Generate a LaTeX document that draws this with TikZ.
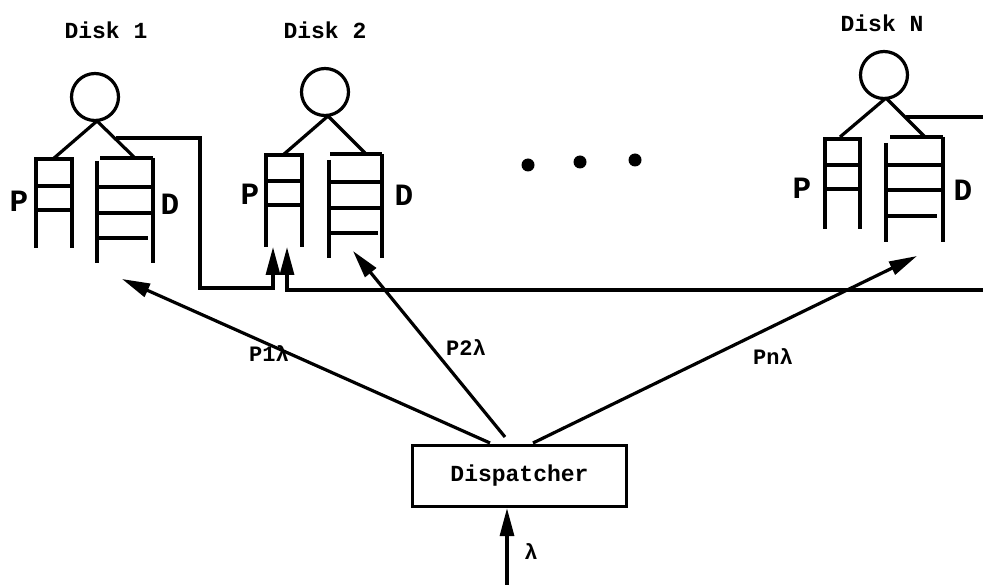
\documentclass[tikz,border=0pt]{standalone}
\usepackage{fontspec}
\setmonofont{Liberation Mono}
\usetikzlibrary{arrows.meta}
\begin{document}
\begin{tikzpicture}[x=1pt,y=-1pt, line width=3.2pt, line cap=butt,
  lbl/.style={font=\ttfamily\bfseries\fontsize{23}{24}\selectfont, inner sep=0},
  rate/.style={font=\ttfamily\bfseries\fontsize{22}{24}\selectfont, inner sep=0},
  pd/.style={font=\ttfamily\bfseries\fontsize{31}{31}\selectfont, inner sep=0},
  srv/.style={circle, draw, line width=3.2pt, minimum size=47pt, inner sep=0},
  dot/.style={circle, fill, minimum size=13pt, inner sep=0},
  box/.style={draw, line width=3.2pt, minimum width=214pt, minimum height=61pt, inner sep=0,
    font=\ttfamily\bfseries\fontsize{23}{24}\selectfont},
  arr/.style={-{Triangle[length=28pt,width=14pt]}},
]
\useasboundingbox (0,0) rectangle (983,585);

% ---------- Disk 1 ----------
\node[lbl] (t1) at (106,30) {Disk 1};
\node[srv] (c1) at (95,97) {};
\coordinate (c1b) at (97,121);
\draw (c1b) -- (53,159);
\draw (c1b) -- (135,158);
% P queue
\draw (36,248) -- (36,159) -- (72,159) -- (72,248);
\draw (36,186) -- (72,186);
\draw (36,210) -- (72,210);
\node[pd] (p1) at (19,201) {P};
% D queue
\draw (100,158) -- (153,158);
\draw (97,161) -- (97,263);
\draw (153,158) -- (153,263);
\draw (97,187) -- (153,187);
\draw (97,213) -- (153,213);
\draw (97,238) -- (148,238);
\node[pd] (d1) at (170,204) {D};

% ---------- Disk 2 ----------
\node[lbl] (t2) at (325,30) {Disk 2};
\node[srv] (c2) at (325,92) {};
\coordinate (c2b) at (328,116);
\draw (c2b) -- (283,155);
\draw (c2b) -- (365,153);
% P queue
\draw (266,247) -- (266,155) -- (302,155) -- (302,247);
\draw (266,181) -- (302,181);
\draw (266,205) -- (302,205);
\node[pd] (p2) at (250,194) {P};
% D queue
\draw (330,154) -- (382,154);
\draw (329,160) -- (329,258);
\draw (382,154) -- (382,258);
\draw (329,182) -- (382,182);
\draw (329,208) -- (382,208);
\draw (329,233) -- (378,233);
\node[pd] (d2) at (404,195) {D};

% ---------- Disk N ----------
\node[lbl] (tN) at (882,23) {Disk N};
\node[srv] (cN) at (884,75) {};
\coordinate (cNb) at (886,98);
\draw (cNb) -- (840,137);
\draw (cNb) -- (925,137);
% P queue
\draw (825,229) -- (825,139) -- (860,139) -- (860,229);
\draw (825,165) -- (860,165);
\draw (825,189) -- (860,189);
\node[pd] (pN) at (802,188) {P};
% D queue
\draw (890,137) -- (943,137);
\draw (886,143) -- (886,242);
\draw (943,137) -- (943,242);
\draw (886,165) -- (943,165);
\draw (886,190) -- (943,190);
\draw (886,216) -- (937,216);
\node[pd] (dN) at (963,190) {D};

% ---------- dots ----------
\node[dot] (dotA) at (528,165) {};
\node[dot] (dotB) at (580,162) {};
\node[dot] (dotC) at (635,160) {};

% ---------- feedback lines ----------
\coordinate (f1) at (116,138);
\coordinate (in1) at (273,247);
\coordinate (in2) at (287,247);
\coordinate (fNs) at (906,117);
\coordinate (fNe) at (983,117);
\coordinate (rin) at (983,290);
\draw[arr] (f1) -| (200,288) -| (in1);
\draw[arr] (rin) -| (in2);
\draw (fNs) -- (fNe);

% ---------- dispatcher ----------
\node[box] (disp) at (519.5,476) {Dispatcher};
\coordinate (s1) at (490,443);
\coordinate (s2) at (505,437);
\coordinate (s3) at (533,443);
\coordinate (e1) at (122,279);
\coordinate (e2) at (353,251);
\coordinate (e3) at (917,256);
\draw[arr] (s1) -- (e1);
\draw[arr] (s2) -- (e2);
\draw[arr] (s3) -- (e3);
\node[rate] (r1) at (269,354) {P1λ};
\node[rate] (r2) at (466,348) {P2λ};
\node[rate] (r3) at (773,357) {Pnλ};

% ---------- input ----------
\coordinate (src) at (507,585);
\draw[arr] (src) -- (disp.south -| src);
\node[rate] (lam) at (531,552) {λ};
\end{tikzpicture}
\end{document}
